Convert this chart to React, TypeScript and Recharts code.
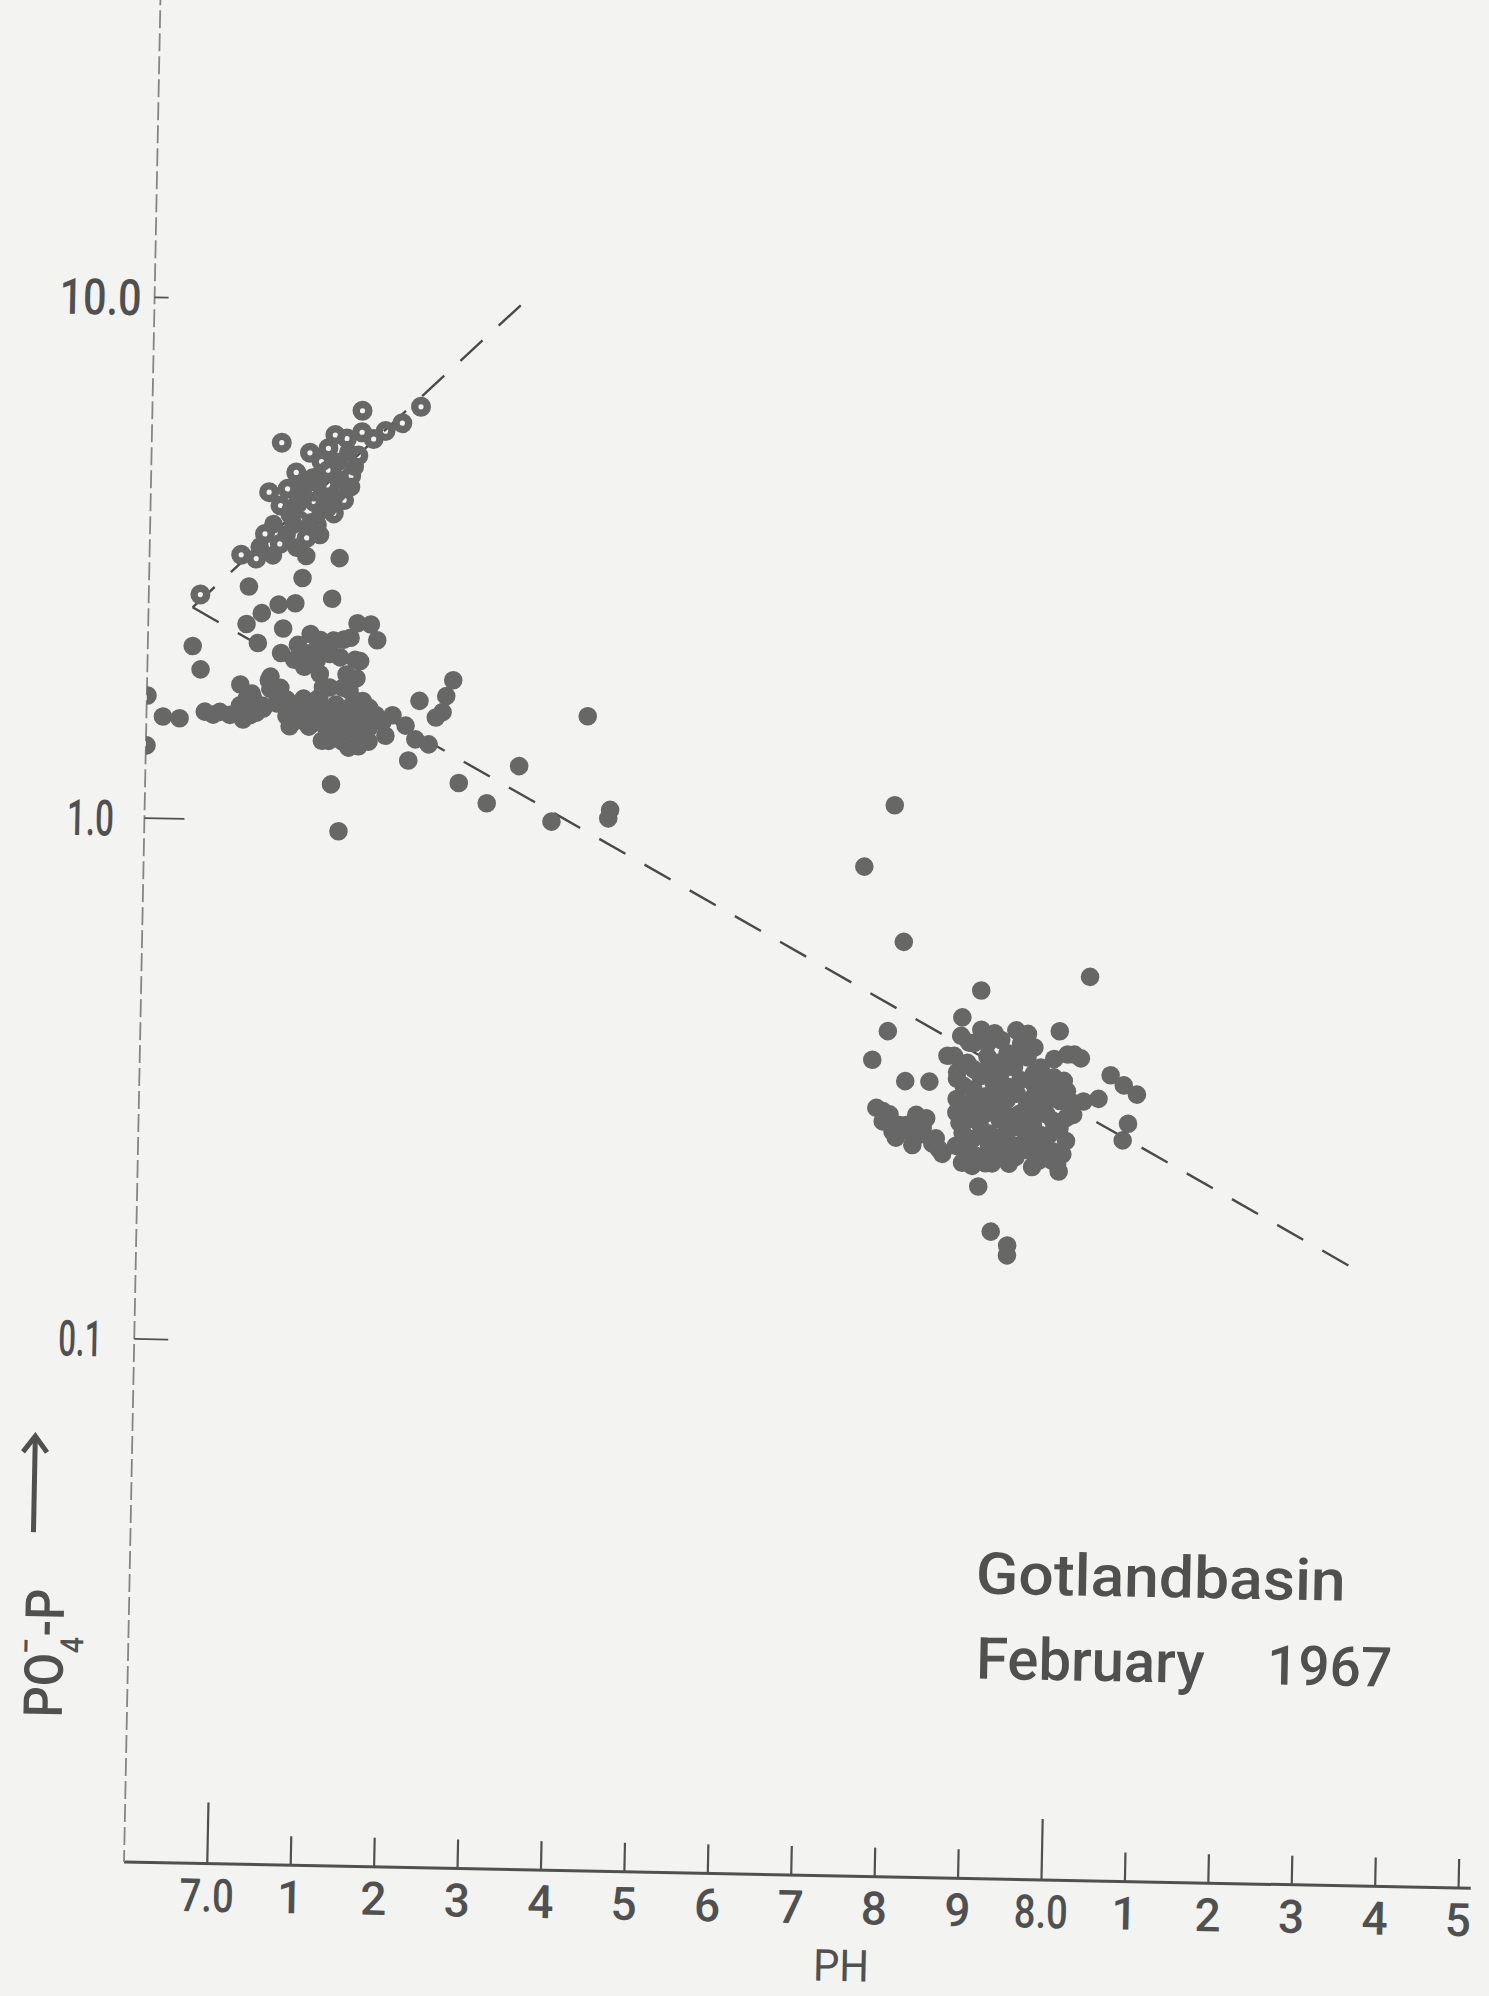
import React from "react";
import { ScatterChart, Scatter, XAxis, YAxis, ReferenceLine } from "recharts";

// PO4-P against pH, Gotland basin, February 1967
// open circles: upper group along the rising fit
const openCircles = [
  [7.152, 6.17], [7.222, 6.31], [7.2, 5.86], [7.18, 5.65], [7.152, 5.61],
  [7.134, 5.45], [7.12, 5.53], [7.166, 5.45], [7.056, 5.32], [7.09, 5.1],
  [7.112, 5.21], [7.148, 5.06], [7.104, 4.91], [7.074, 4.67], [7.094, 4.56],
  [7.112, 4.73], [7.14, 4.63], [7.042, 4.27], [7.064, 4.34], [7.08, 4.37],
  [7.096, 4.3], [7.112, 4.43], [7.124, 4.3], [7.132, 4.15], [7.056, 4.03],
  [7.076, 4.06], [7.096, 4.11], [7.112, 4.0], [7.068, 3.88], [7.12, 3.91],
  [7.1, 3.71], [7.08, 3.77], [7.038, 3.55], [7.088, 3.5], [7.056, 3.4],
  [7.01, 3.23], [7.028, 3.18], [6.962, 2.7],
];

// filled circles mixed into the upper group
const filledUpper = [
  [7.144, 4.81], [7.124, 4.91], [7.136, 5.13], [7.1, 4.6], [7.125, 4.55],
  [7.1, 4.45], [7.086, 4.44], [7.14, 4.4], [7.084, 4.2], [7.12, 4.2],
  [7.109, 4.1], [7.072, 3.97], [7.104, 3.95], [7.068, 3.95], [7.093, 3.75],
  [7.072, 3.71], [7.048, 3.71], [7.104, 3.55], [7.064, 3.55], [7.076, 3.35],
  [7.032, 3.35], [7.048, 3.23], [7.088, 3.23], [7.128, 3.21], [7.084, 2.93],
  [7.02, 2.81], [7.12, 2.68],
];

// filled circles, low pH group
const filledLeft = [
  [7.036, 2.5], [7.056, 2.6], [7.076, 2.62], [7.018, 2.38], [7.062, 2.34],
  [7.032, 2.19], [7.095, 2.29], [7.107, 2.23], [7.135, 2.24], [7.08, 2.18],
  [7.06, 2.1], [7.092, 2.1], [7.151, 2.41], [7.167, 2.4], [7.175, 2.24],
  [7.123, 2.23], [7.143, 2.26], [7.103, 2.15], [7.103, 2.04], [7.131, 2.07],
  [7.155, 2.04], [7.119, 2.1], [7.149, 2.05], [7.076, 2.04], [7.088, 1.98],
  [6.954, 2.15], [6.964, 1.94], [7.107, 1.92], [7.139, 1.92], [7.151, 1.89],
  [7.119, 1.81], [7.111, 1.81], [7.135, 1.81], [7.143, 1.79], [7.048, 1.89],
  [7.046, 1.86], [7.06, 1.8], [7.048, 1.79], [7.056, 1.76], [7.012, 1.82],
  [7.026, 1.75], [7.107, 1.73], [7.103, 1.71], [7.028, 1.71], [7.02, 1.71],
  [7.068, 1.71], [7.088, 1.72], [7.151, 1.71], [7.159, 1.71], [7.127, 1.68],
  [7.056, 1.68], [7.111, 1.66], [7.072, 1.66], [7.143, 1.66], [7.167, 1.66],
  [7.04, 1.66], [7.012, 1.66], [7.04, 1.64], [7.084, 1.63], [7.127, 1.63],
  [7.072, 1.59], [7.068, 1.59], [7.092, 1.61], [7.032, 1.61], [7.103, 1.59],
  [7.024, 1.59], [7.139, 1.59], [7.159, 1.61], [7.175, 1.61], [7.195, 1.61],
  [7.119, 1.56], [7.155, 1.56], [7.183, 1.56], [7.08, 1.56], [7.099, 1.54],
  [7.135, 1.54], [7.095, 1.52], [7.115, 1.52], [7.072, 1.52], [7.127, 1.52],
  [7.151, 1.5], [7.167, 1.52], [7.187, 1.47], [7.135, 1.46], [7.119, 1.43],
  [7.111, 1.43], [7.135, 1.43], [7.167, 1.43], [7.143, 1.39], [7.155, 1.4],
  [7.211, 1.54], [7.223, 1.45], [7.239, 1.42], [7.215, 1.32], [6.92, 1.57],
  [6.94, 1.56], [6.97, 1.61], [6.98, 1.59], [6.988, 1.61], [7.0, 1.59],
  [7.016, 1.56], [6.901, 1.72], [6.901, 1.38], [7.227, 1.72], [7.259, 1.76],
  [7.267, 1.89], [7.255, 1.64], [7.247, 1.6],
];

// scattered points between the two groups
const filledMid = [
  [7.123, 1.18], [7.276, 1.2], [7.31, 1.1], [7.348, 1.3], [7.388, 1.02],
  [7.429, 1.63], [7.458, 1.08], [7.456, 1.04], [7.133, 0.96],
];

// filled circles, high pH group
const filledRight = [
  [7.799, 1.13], [7.764, 0.859], [7.813, 0.618], [8.037, 0.538], [7.907, 0.502],
  [7.885, 0.445], [8.002, 0.422], [7.796, 0.416], [7.778, 0.366], [7.818, 0.334],
  [7.847, 0.334], [7.908, 0.211], [7.924, 0.173], [7.944, 0.163], [7.944, 0.156],
  [7.996, 0.373], [8.02, 0.381], [8.012, 0.381], [8.028, 0.375], [8.064, 0.349],
  [8.08, 0.334], [8.096, 0.321], [8.05, 0.314], [8.086, 0.282], [8.08, 0.262],
  [7.784, 0.296], [7.792, 0.292], [7.792, 0.279], [7.8, 0.288], [7.812, 0.275],
  [7.82, 0.275], [7.808, 0.26], [7.804, 0.267], [7.824, 0.267], [7.828, 0.252],
  [7.832, 0.288], [7.84, 0.272], [7.844, 0.284], [7.836, 0.264], [7.852, 0.254],
  [7.856, 0.26], [7.86, 0.248], [7.864, 0.243],
  [7.908, 0.422], [7.95, 0.422], [7.924, 0.416], [7.964, 0.416], [7.932, 0.404],
  [7.956, 0.398], [7.972, 0.392], [7.9, 0.398], [7.894, 0.398], [7.916, 0.398],
  [7.884, 0.41], [7.868, 0.375], [7.876, 0.375], [7.892, 0.364], [7.916, 0.375],
  [7.94, 0.381], [7.964, 0.375], [7.952, 0.375], [7.928, 0.365], [7.948, 0.359],
  [7.94, 0.359], [7.98, 0.359], [7.916, 0.354], [7.9, 0.354], [7.972, 0.349],
  [7.88, 0.349], [7.996, 0.344], [7.988, 0.339], [8.008, 0.339], [7.972, 0.334],
  [7.996, 0.329], [8.012, 0.324], [8.016, 0.31], [8.004, 0.31], [8.032, 0.31],
  [7.988, 0.31], [7.98, 0.324], [7.956, 0.339], [7.932, 0.349], [7.908, 0.344],
  [7.888, 0.329], [7.88, 0.339], [7.94, 0.329], [7.924, 0.334], [7.9, 0.324],
  [7.928, 0.319], [7.952, 0.319], [7.972, 0.315], [7.88, 0.31], [7.9, 0.31],
  [7.892, 0.301], [7.88, 0.292], [7.916, 0.315], [7.94, 0.31], [7.964, 0.301],
  [7.924, 0.301], [7.98, 0.301], [7.988, 0.292], [7.972, 0.292], [7.996, 0.315],
  [7.916, 0.292], [7.908, 0.296], [7.932, 0.296], [7.956, 0.292], [8.02, 0.292],
  [7.948, 0.288], [8.012, 0.288], [7.996, 0.284], [8.004, 0.275], [7.98, 0.267],
  [7.972, 0.279], [7.956, 0.275], [7.932, 0.284], [7.908, 0.279], [7.896, 0.284],
  [7.884, 0.279], [7.888, 0.267], [7.944, 0.272], [7.92, 0.267], [7.912, 0.264],
  [7.936, 0.264], [7.992, 0.267], [7.968, 0.264], [7.9, 0.26], [8.012, 0.26],
  [7.96, 0.256], [7.984, 0.252], [7.896, 0.248], [7.88, 0.252], [7.92, 0.252],
  [7.944, 0.256], [7.968, 0.248], [7.996, 0.248], [8.008, 0.245], [8.002, 0.234],
  [7.952, 0.241], [7.98, 0.238], [7.996, 0.238], [7.924, 0.234], [7.9, 0.231],
  [7.888, 0.234], [7.892, 0.241], [7.908, 0.241], [7.932, 0.245], [7.916, 0.234],
  [7.944, 0.234], [7.972, 0.231], [8.004, 0.227],
];

// dashed fit lines (pH, PO4-P end points)
const risingFit = [[6.953, 2.55], [7.34, 10.0]];
const fallingFit = [[6.953, 2.55], [8.354, 0.1535]];

const xTicks = [7.0, 7.1, 7.2, 7.3, 7.4, 7.5, 7.6, 7.7, 7.8, 7.9, 8.0, 8.1, 8.2, 8.3, 8.4, 8.5];
const xTickLabels = ["7.0", "1", "2", "3", "4", "5", "6", "7", "8", "9", "8.0", "1", "2", "3", "4", "5"];
const yTicks = [0.1, 1, 10];
const yTickLabels = ["0.1", "1.0", "10.0"];

const INK = "#505050";
const DOT = "#676767";
const FONT = "Roboto, 'Liberation Sans', Arial, sans-serif";

const toPoints = (rows: number[][]) => rows.map(([ph, po4]) => ({ ph, po4 }));
const toSegment = (rows: number[][]) => rows.map(([ph, po4]) => ({ x: ph, y: po4 }));

const Dot = (props: any) => <circle cx={props.cx} cy={props.cy} r={9.3} fill={DOT} />;
const Ring = (props: any) => (
  <circle cx={props.cx} cy={props.cy} r={6.3} fill="none" stroke={DOT} strokeWidth={7.4} />
);

const XTick = ({ x, y, payload }: any) => {
  const i = xTicks.indexOf(payload.value);
  const label = xTickLabels[i] ?? "";
  const major = label.includes(".");
  const fit = major ? { textLength: 54, lengthAdjust: "spacingAndGlyphs" } : {};
  return (
    <g>
      <line x1={x} x2={x} y1={y} y2={y - (major ? 61 : 29)} stroke={INK} strokeWidth={2.2} />
      <text x={x} y={y + 48} textAnchor="middle" fontSize={46} fontWeight={500} fontFamily={FONT} fill={INK} {...fit}>
        {label}
      </text>
    </g>
  );
};

const yLabelWidth = [44, 47, 82];
const yTickLength = [34, 40, 14];

const YTick = ({ x, y, payload }: any) => {
  const i = yTicks.indexOf(payload.value);
  return (
    <g>
      <line x1={x} x2={x + yTickLength[i]} y1={y} y2={y} stroke={INK} strokeWidth={1.8} />
      <text
        x={x - 54}
        y={y + 18}
        textAnchor="middle"
        fontSize={50}
        fontWeight={500}
        fontFamily={FONT}
        fill={INK}
        textLength={yLabelWidth[i]}
        lengthAdjust="spacingAndGlyphs"
      >
        {yTickLabels[i]}
      </text>
    </g>
  );
};

const PhLabel = () => (
  <text x={860} y={1980} textAnchor="middle" fontSize={44} fontFamily={FONT} fill={INK} textLength={56} lengthAdjust="spacingAndGlyphs">
    PH
  </text>
);

const Po4Label = () => (
  <g fill={INK} stroke="none">
    <text transform="translate(76,1732) rotate(-90) scale(0.9,1)" fontSize={54} fontWeight={500} fontFamily={FONT}>
      PO
      <tspan fontSize={32} dy={20}>4</tspan>
      <tspan fontSize={32} dx={-20} dy={-46}>−</tspan>
      <tspan dx={2} dy={26}>-P</tspan>
    </text>
    <line x1={44} x2={44} y1={1547} y2={1453} stroke={INK} strokeWidth={5} />
    <polyline points="32,1467 44,1451 56,1467" fill="none" stroke={INK} strokeWidth={5} />
  </g>
);

export default function App() {
  return (
    <div style={{ position: "absolute", left: 0, top: 0, width: 1489, height: 1996, overflow: "hidden", background: "#f3f3f1" }}>
      <div style={{ width: 1489, height: 1996, transform: "rotate(1.12deg)", transformOrigin: "800px 1000px" }}>
        <ScatterChart width={1489} height={1996} margin={{ top: 0, right: 1, bottom: 0, left: 0 }}>
          <XAxis
            type="number"
            dataKey="ph"
            domain={[6.9002, 8.5146]}
            ticks={xTicks}
            interval={0}
            allowDataOverflow
            height={121}
            tickSize={0}
            tickMargin={0}
            tickLine={false}
            tick={<XTick />}
            axisLine={{ stroke: INK, strokeWidth: 3 }}
            label={<PhLabel />}
          />
          <YAxis
            type="number"
            dataKey="po4"
            scale="log"
            domain={[0.0099, 39.4]}
            ticks={yTicks}
            interval={0}
            allowDataOverflow
            width={141}
            tickSize={0}
            tickMargin={0}
            tickLine={false}
            tick={<YTick />}
            axisLine={{ stroke: "#858585", strokeWidth: 1.8, strokeDasharray: "18 5" }}
            label={<Po4Label />}
          />
          <ReferenceLine segment={toSegment(risingFit)} stroke="#4a4a4a" strokeWidth={2.4} strokeDasharray="30 22" ifOverflow="visible" />
          <ReferenceLine segment={toSegment(fallingFit)} stroke="#4a4a4a" strokeWidth={2.4} strokeDasharray="30 22" ifOverflow="visible" />
          <Scatter data={toPoints(filledLeft)} shape={Dot} isAnimationActive={false} />
          <Scatter data={toPoints(filledMid)} shape={Dot} isAnimationActive={false} />
          <Scatter data={toPoints(filledRight)} shape={Dot} isAnimationActive={false} />
          <Scatter data={toPoints(filledUpper)} shape={Dot} isAnimationActive={false} />
          <Scatter data={toPoints(openCircles)} shape={Ring} isAnimationActive={false} />
          <text x={987} y={1590} fontSize={58} fontWeight={500} fontFamily={FONT} fill={INK} textLength={370} lengthAdjust="spacingAndGlyphs">
            Gotlandbasin
          </text>
          <text y={1675} fontSize={58} fontWeight={500} fontFamily={FONT} fill={INK}>
            <tspan x={989}>February</tspan>
            <tspan x={1280} fontSize={55}>1967</tspan>
          </text>
        </ScatterChart>
      </div>
    </div>
  );
}
